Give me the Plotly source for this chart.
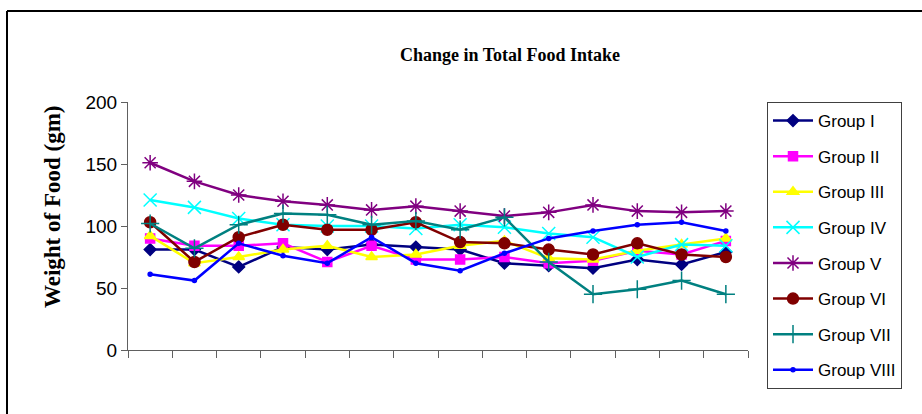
import plotly.graph_objects as go

weeks = [str(i) for i in range(1, 15)]

group_i = [81, 81, 67, 83, 81, 85, 83, 81, 70, 68, 66, 73, 69, 79]
group_ii = [90, 84, 84, 86, 71, 84, 73, 73, 75, 70, 72, 80, 77, 88]
group_iii = [92, 70, 75, 81, 84, 75, 77, 84, 88, 74, 73, 80, 85, 90]
group_iv = [121, 115, 106, 101, 100, 100, 98, 101, 99, 94, 91, 75, 85, 84]
group_v = [151, 136, 125, 120, 117, 113, 116, 112, 108, 111, 117, 112, 111, 112]
group_vi = [103, 71, 91, 101, 97, 97, 103, 87, 86, 81, 77, 86, 77, 75]
group_vii = [102, 82, 101, 110, 109, 101, 104, 97, 107, 71, 45, 49, 56, 45]
group_viii = [61, 56, 86, 76, 70, 91, 70, 64, 78, 90, 96, 101, 103, 96]

names = ["Group I", "Group II", "Group III", "Group IV", "Group V", "Group VI", "Group VII", "Group VIII"]
series = [group_i, group_ii, group_iii, group_iv, group_v, group_vi, group_vii, group_viii]
colors = ["#000080", "#FF00FF", "#FFFF00", "#00FFFF", "#800080", "#800000", "#008080", "#0000FF"]
symbols = ["diamond", "square", "triangle-up", "x-thin-open", "asterisk-open", "circle", "cross-thin-open", "circle"]
sizes = [9, 9, 10, 13, 13, 11, 13, 4]

fig = go.Figure()
for i, (nm, ys, c, s, sz) in enumerate(zip(names, series, colors, symbols, sizes)):
    fig.add_trace(go.Scatter(
        x=weeks, y=ys, name=nm, mode="lines+markers",
        line=dict(color=c, width=2.5),
        marker=dict(symbol=s, size=sz, color=c, line=dict(color=c, width=1.5)),
        legendgroup=nm,
    ))

W, H = 922, 414
L, R, T, B = 128, 748, 102, 350
pw, ph = R - L, B - T

def px(x):
    return (x - L) / pw

def py(y):
    return (B - y) / ph

fig.update_layout(
    width=W, height=H,
    margin=dict(l=L, r=W - R, t=T, b=H - B, autoexpand=False),
    paper_bgcolor="white", plot_bgcolor="white",
    showlegend=True,
    title=dict(text="<b>Change in Total Food Intake</b>", x=510 / W, xanchor="center",
               y=1 - 55 / H, yanchor="middle", yref="container",
               font=dict(family="Liberation Serif", size=18, color="black")),
    legend=dict(x=px(767), y=1.0, xanchor="left", yanchor="top",
                bordercolor="#404040", borderwidth=1, bgcolor="white",
                font=dict(family="Liberation Sans", size=17, color="black"),
                tracegroupgap=10.5, itemwidth=40, maxheight=320),
    xaxis=dict(type="category", showgrid=False, showline=True, linecolor="#606060", linewidth=1,
               ticks="outside", tickson="boundaries", ticklen=7, tickcolor="#606060",
               showticklabels=False, range=[-0.5, 13.5], zeroline=False),
    yaxis=dict(range=[0, 200], dtick=50, showgrid=False, showline=True, linecolor="#606060",
               linewidth=1, ticks="outside", ticklen=6, tickcolor="#606060",
               tickfont=dict(family="Liberation Sans", size=19, color="black"),
               zeroline=False),
    annotations=[dict(text="<b>Weight of Food (gm)</b>", x=px(52), y=py(207), xref="paper", yref="paper",
                      textangle=-90, showarrow=False, xanchor="center", yanchor="middle",
                      font=dict(family="Liberation Serif", size=23, color="black"))],
    shapes=[
        dict(type="line", xref="paper", yref="paper", x0=px(7), x1=px(930), y0=py(11), y1=py(11),
             line=dict(color="black", width=2)),
        dict(type="line", xref="paper", yref="paper", x0=px(7), x1=px(7), y0=py(11), y1=py(420),
             line=dict(color="black", width=2)),
    ],
)

fig.write_html("out.html", config={"displayModeBar": False},
               post_script="document.body.style.margin='0';")
